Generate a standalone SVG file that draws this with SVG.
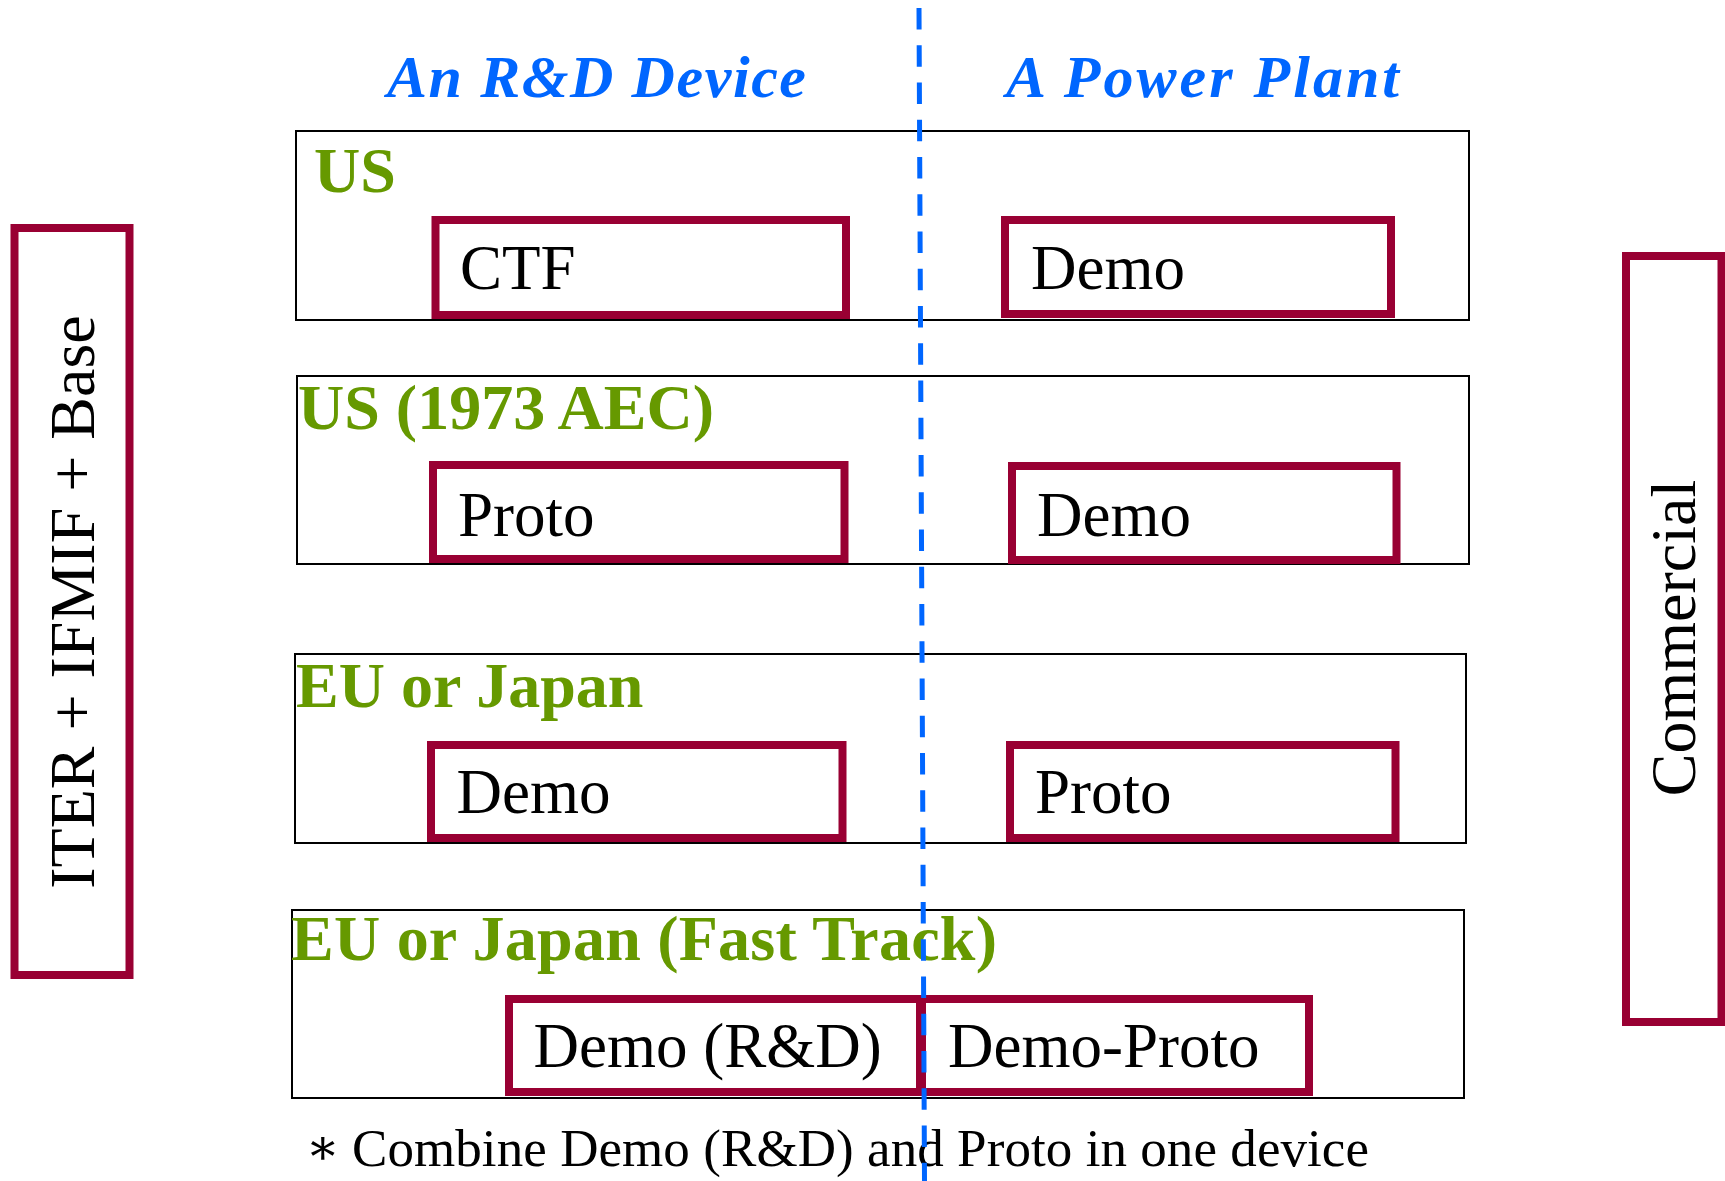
<svg xmlns="http://www.w3.org/2000/svg" width="1725" height="1181" viewBox="0 0 1725 1181">
<style>
.row{fill:none;stroke:#000;stroke-width:2}
.box{fill:#fff;stroke:#990033;stroke-width:8}
.lbl{font-family:"Liberation Serif","Times New Roman",serif;font-size:63px;fill:#000}
.vlbl{font-family:"Liberation Serif","Times New Roman",serif;font-size:64px;fill:#000}
.grp{font-family:"Liberation Serif","Times New Roman",serif;font-size:64px;font-weight:bold;fill:#669900}
.ttl{font-family:"Liberation Serif","Times New Roman",serif;font-size:60px;font-weight:bold;font-style:italic;fill:#0066ff}
.note{font-family:"Liberation Serif","Times New Roman",serif;font-size:53px;fill:#000}
.ast{font-family:"DejaVu Serif",serif;font-size:50px;fill:#000}
</style>
<rect width="1725" height="1181" fill="#fff"/>
<g id="titles">
<text class="ttl" x="387" y="97" textLength="419">An R&amp;D Device</text>
<text class="ttl" x="1006" y="97" textLength="393">A Power Plant</text>
</g>
<g id="row-us">
<rect class="row" x="296" y="131" width="1173" height="189"/>
<text class="grp" x="314" y="192">US</text>
</g>
<g id="row-us1973">
<rect class="row" x="297" y="376" width="1172" height="188"/>
<text class="grp" x="298" y="429">US (1973 AEC)</text>
</g>
<g id="row-eujp">
<rect class="row" x="295" y="654" width="1171" height="189"/>
<text class="grp" x="296" y="707">EU or Japan</text>
</g>
<g id="row-eujp-fast">
<rect class="row" x="292" y="910" width="1172" height="188"/>
<text class="grp" x="291" y="960" textLength="706">EU or Japan (Fast Track)</text>
</g>
<g id="node-ctf">
<rect class="box" x="435.5" y="220" width="410.5" height="95"/>
<text class="lbl" x="460" y="289">CTF</text>
</g>
<g id="node-us-demo">
<rect class="box" x="1005" y="220" width="386" height="94"/>
<text class="lbl" x="1031" y="289">Demo</text>
</g>
<g id="node-us73-proto">
<rect class="box" x="433" y="465" width="411.5" height="94"/>
<text class="lbl" x="458" y="536">Proto</text>
</g>
<g id="node-us73-demo">
<rect class="box" x="1012" y="466" width="384.5" height="94"/>
<text class="lbl" x="1037" y="536">Demo</text>
</g>
<g id="node-eu-demo">
<rect class="box" x="431" y="745" width="411.5" height="93"/>
<text class="lbl" x="456.5" y="813">Demo</text>
</g>
<g id="node-eu-proto">
<rect class="box" x="1010" y="745" width="385.5" height="93"/>
<text class="lbl" x="1035" y="813">Proto</text>
</g>
<g id="node-fast-demo-rd">
<rect class="box" x="509" y="999" width="411" height="93"/>
<text class="lbl" x="533.5" y="1067">Demo (R&amp;D)</text>
</g>
<g id="node-fast-demo-proto">
<rect class="box" x="922" y="999" width="387" height="93"/>
<text class="lbl" x="948" y="1067">Demo-Proto</text>
</g>
<g id="node-left">
<rect class="box" x="14.5" y="228" width="115" height="747"/>
<text class="vlbl" transform="translate(93.5,602) rotate(-90)" text-anchor="middle">ITER + IFMIF + Base</text>
</g>
<g id="node-right">
<rect class="box" x="1626" y="256" width="95.5" height="766"/>
<text class="vlbl" transform="translate(1695,638) rotate(-90)" text-anchor="middle">Commercial</text>
</g>
<g id="footnote">
<text class="ast" x="306" y="1164">∗</text>
<text class="note" x="352" y="1166" textLength="1017">Combine Demo (R&amp;D) and Proto in one device</text>
</g>
<g id="connectors">
<line x1="919" y1="8" x2="924.5" y2="1181" stroke="#0066ff" stroke-width="5" stroke-dasharray="21.5 15.75"/>
</g>
</svg>
